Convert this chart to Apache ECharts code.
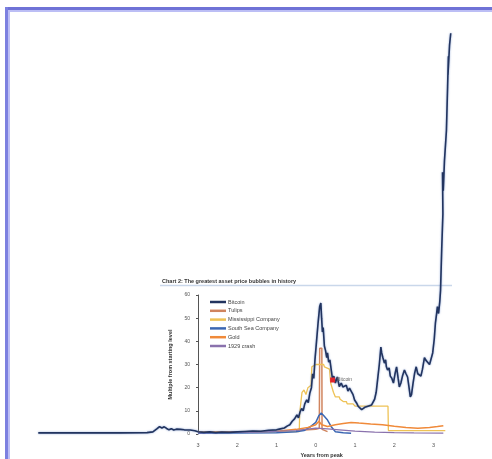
<!DOCTYPE html>
<html>
<head>
<meta charset="utf-8">
<script src="https://cdn.jsdelivr.net/npm/echarts@6/dist/echarts.min.js"></script>
<style>
  html, body { margin: 0; padding: 0; background: #fff; overflow: hidden; width: 492px; height: 459px; }
  #main { position: absolute; left: 0; top: 0; width: 492px; height: 459px; }
</style>
</head>
<body>
<div id="main"></div>
<script>
  // years from peak, multiple from starting level
  var bitcoin = [
    [-7.07, 0.5], [-6.0, 0.5], [-5.0, 0.5], [-4.3, 0.6], [-4.15, 0.9], [-4.05, 2.2], [-3.98, 3.2],
    [-3.92, 2.6], [-3.86, 3.1], [-3.8, 2.4], [-3.74, 1.8], [-3.68, 2.3], [-3.62, 1.7], [-3.55, 2.1],
    [-3.45, 2.0], [-3.35, 1.8], [-3.2, 1.7], [-3.08, 1.4], [-3.0, 1.0], [-2.85, 0.7], [-2.7, 0.9],
    [-2.55, 0.6], [-2.4, 0.8], [-2.2, 0.7], [-2.0, 0.9], [-1.8, 1.1], [-1.6, 1.3], [-1.4, 1.2],
    [-1.2, 1.6], [-1.0, 1.8], [-0.9, 2.2], [-0.8, 2.6], [-0.72, 3.5], [-0.66, 4.0], [-0.6, 5.5],
    [-0.54, 6.5], [-0.48, 8.2], [-0.44, 7.0], [-0.4, 9.5], [-0.36, 11], [-0.32, 10], [-0.28, 13],
    [-0.23, 14.7], [-0.19, 13.5], [-0.15, 17.7], [-0.11, 20], [-0.08, 26], [-0.05, 24], [-0.02, 32],
    [0.02, 40], [0.06, 48], [0.1, 55], [0.13, 56.5], [0.15, 50], [0.17, 44], [0.19, 46], [0.22, 38],
    [0.25, 36], [0.28, 33], [0.3, 35], [0.33, 31], [0.36, 32], [0.4, 27], [0.43, 23.3], [0.46, 25],
    [0.5, 22], [0.55, 24.6], [0.6, 20.5], [0.65, 22], [0.69, 20.3], [0.74, 19.5], [0.78, 21],
    [0.82, 18.5], [0.86, 19.8], [0.9, 19], [0.95, 17], [0.99, 14.7], [1.04, 13.4], [1.08, 12],
    [1.12, 11.7], [1.17, 10.5], [1.2, 10.4], [1.25, 11.5], [1.29, 11], [1.33, 12], [1.37, 11.7],
    [1.42, 12.5], [1.47, 13], [1.5, 15], [1.54, 18], [1.58, 24], [1.62, 30], [1.66, 37.5], [1.68, 35],
    [1.71, 33], [1.75, 30.6], [1.78, 32], [1.8, 29], [1.83, 27.6], [1.87, 28.5], [1.9, 25], [1.94, 24],
    [1.98, 22], [2.02, 26], [2.06, 29], [2.1, 24], [2.13, 20.3], [2.17, 22], [2.21, 25], [2.26, 27.6],
    [2.3, 26], [2.34, 24.6], [2.37, 21], [2.41, 16], [2.44, 17], [2.48, 22], [2.52, 26.3], [2.56, 29],
    [2.6, 26], [2.64, 26.8], [2.68, 25], [2.72, 28], [2.77, 33], [2.8, 32], [2.85, 31], [2.9, 30],
    [2.95, 30.6], [2.98, 35], [3.02, 41], [3.05, 48], [3.08, 52], [3.1, 55], [3.13, 52], [3.16, 57],
    [3.18, 62], [3.21, 80], [3.24, 95], [3.23, 113], [3.25, 105], [3.28, 118], [3.33, 131],
    [3.36, 150], [3.38, 163], [3.37, 155], [3.41, 168], [3.44, 173]
  ];
  var tulips = [[-0.5, 1.5], [0.0, 2], [0.09, 2.5], [0.1, 37], [0.155, 37], [0.16, 2], [0.3, 1]];
  var mississippi = [
    [-3, 0.8], [-1.5, 0.9], [-0.42, 1], [-0.41, 9], [-0.36, 9], [-0.35, 18], [-0.3, 19], [-0.25, 17],
    [-0.2, 20], [-0.12, 21], [-0.1, 29], [0.0, 30], [0.2, 30], [0.22, 29], [0.35, 28], [0.38, 22],
    [0.45, 18], [0.5, 16], [0.6, 16], [0.62, 15], [0.7, 14], [0.78, 14], [0.8, 13], [0.95, 13],
    [1.0, 12], [1.84, 12], [1.85, 1.5], [3.3, 1.5]
  ];
  var southSea = [
    [-3, 0.3], [-1, 0.5], [-0.5, 1], [-0.3, 1.5], [-0.15, 3], [0, 5], [0.08, 8], [0.14, 9], [0.2, 8],
    [0.3, 6], [0.4, 3], [0.5, 1], [0.7, 0.5], [0.9, 0.3]
  ];
  var gold = [
    [-3, 0.8], [-1, 1.2], [-0.5, 2], [-0.2, 2.8], [0, 4], [0.08, 5.5], [0.15, 4], [0.3, 3.2], [0.5, 4],
    [0.7, 4.5], [0.9, 5], [1.1, 4.7], [1.4, 4.3], [1.7, 4], [2.0, 3.3], [2.3, 2.8], [2.6, 2.5],
    [2.9, 2.8], [3.1, 3.2], [3.25, 3.6]
  ];
  var crash1929 = [
    [-3, 0.5], [-1.5, 0.8], [-0.5, 1.5], [0, 2.5], [0.3, 2.2], [0.6, 1.8], [1, 1.2], [1.5, 0.8],
    [2, 0.6], [2.5, 0.5], [3.25, 0.4]
  ];
  var seriesNames = ['Bitcoin', 'Tulips', 'Mississippi Company', 'South Sea Company', 'Gold', '1929 crash'];
  var xTickLabels = ['3', '2', '1', '0', '1', '2', '3'];
  var bitcoinNote = { name: 'Bitcoin', coord: [0.43, 23.3] };

  var chart = echarts.init(document.getElementById('main'), null, { renderer: 'canvas' });
  var font = 'Liberation Sans, Arial, sans-serif';

  function line(name, data, color, width, grid) {
    return {
      name: name, type: 'line', data: data, xAxisIndex: grid, yAxisIndex: grid,
      showSymbol: false, symbol: 'none', animation: false, clip: false,
      lineStyle: { color: color, width: width }, itemStyle: { color: color }
    };
  }

  var btc = line(seriesNames[0], bitcoin, '#22345f', 1.6, 1);
  btc.lineStyle.shadowColor = 'rgba(110,140,200,0.8)';
  btc.lineStyle.shadowBlur = 2;
  btc.z = 5;
  btc.markPoint = {
    z: 10, symbol: 'rect', symbolSize: 5,
    itemStyle: { color: '#e0262e', shadowBlur: 0 },
    label: { show: true, position: 'right', distance: 2, formatter: '{b}',
      fontSize: 5, color: '#666', fontFamily: font },
    data: [bitcoinNote]
  };

  chart.setOption({
    animation: false,
    title: {
      text: 'Chart 2: The greatest asset price bubbles in history',
      left: 162, top: 278, padding: 0,
      textStyle: { fontSize: 5.5, fontWeight: 'bold', color: '#333', fontFamily: font }
    },
    legend: {
      orient: 'vertical', left: 210, top: 299, padding: 0,
      itemWidth: 16, itemHeight: 2.5, itemGap: 2.8, icon: 'rect',
      textStyle: { fontSize: 5.5, color: '#444', fontFamily: font, padding: [0, 0, 0, -3] },
      data: seriesNames
    },
    graphic: [
      { type: 'rect', shape: { x: 5, y: 7, width: 487, height: 3 }, style: { fill: '#6f72d6' }, z: 20 },
      { type: 'rect', shape: { x: 5, y: 10, width: 487, height: 2 }, style: { fill: '#bcbef5' }, z: 20 },
      { type: 'rect', shape: { x: 5, y: 7, width: 3, height: 452 }, style: { fill: '#7c80e0' }, z: 20 },
      { type: 'rect', shape: { x: 8, y: 10, width: 2, height: 449 }, style: { fill: '#bcbef5' }, z: 20 },
      { type: 'line', shape: { x1: 160, y1: 285.5, x2: 452, y2: 285.5 },
        style: { stroke: '#c9d7ea', lineWidth: 1.5 }, z: 1 }
    ],
    grid: [
      { left: 198, top: 295, width: 247.3, height: 139 },
      { left: 37.1, top: 17, width: 416, height: 417 }
    ],
    xAxis: [{
      gridIndex: 0, type: 'value', min: -3, max: 3.3, interval: 1,
      name: 'Years from peak', nameLocation: 'middle', nameGap: 18,
      nameTextStyle: { fontSize: 5.5, fontWeight: 'bold', color: '#333', fontFamily: font },
      axisLine: { show: false, onZero: false }, axisTick: { show: false }, splitLine: { show: false },
      axisLabel: { fontSize: 5.5, color: '#555', margin: 8, fontFamily: font, showMaxLabel: false,
        formatter: function (v) { return Number.isInteger(v) ? xTickLabels[v + 3] : ''; } }
    }, {
      gridIndex: 1, type: 'value', min: -7.1, max: 3.5, show: false
    }],
    yAxis: [{
      gridIndex: 0, type: 'value', min: 0, max: 60, interval: 10,
      name: 'Multiple from starting level', nameLocation: 'middle', nameGap: 23,
      nameTextStyle: { fontSize: 5.5, fontWeight: 'bold', color: '#333', fontFamily: font },
      axisLine: { show: true, onZero: false, lineStyle: { color: '#555', width: 1 } },
      axisTick: { show: true, length: 2, lineStyle: { color: '#555' } },
      splitLine: { show: false },
      axisLabel: { fontSize: 5, color: '#555', margin: 8, fontFamily: font }
    }, {
      gridIndex: 1, type: 'value', min: 0, max: 180, show: false
    }],
    series: [
      btc,
      line(seriesNames[1], tulips, '#d0845e', 1.5, 0),
      line(seriesNames[2], mississippi, '#eec255', 1.3, 0),
      line(seriesNames[3], southSea, '#3b67b3', 1.5, 0),
      line(seriesNames[4], gold, '#f08a3a', 1.5, 0),
      line(seriesNames[5], crash1929, '#8a72ad', 1.2, 0)
    ]
  });
</script>
</body>
</html>
